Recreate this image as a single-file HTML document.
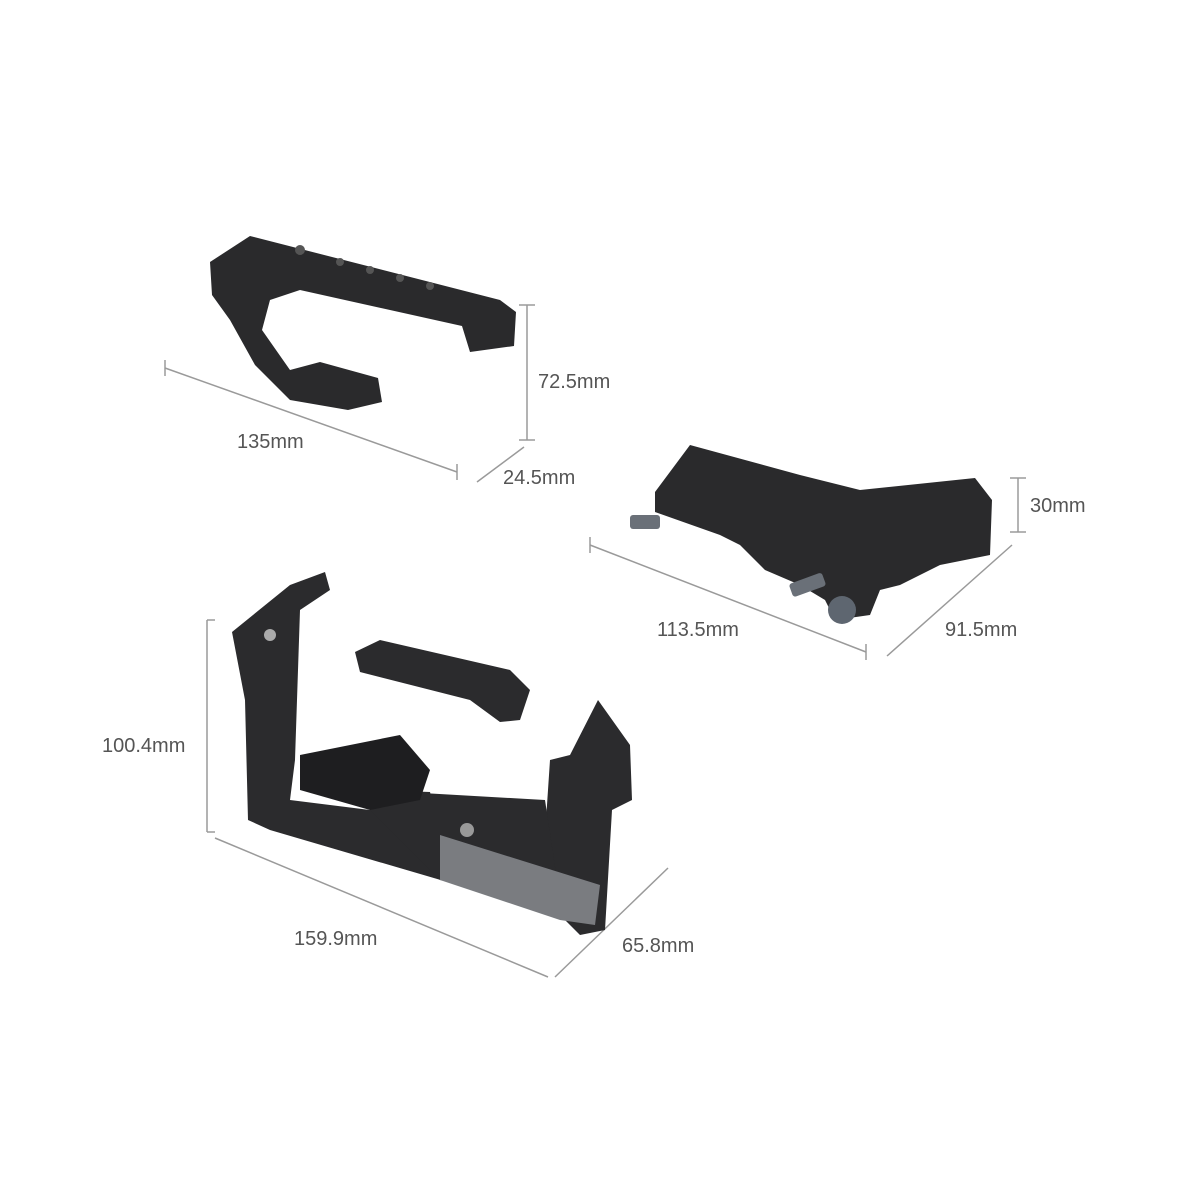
<!DOCTYPE html>
<html><head><meta charset="utf-8"><style>
html,body{margin:0;padding:0;background:#fff;}
svg{display:block}
text{font-family:"Liberation Sans",sans-serif;font-size:20px;fill:#555;}
</style></head><body>
<svg width="1200" height="1200" viewBox="0 0 1200 1200" xmlns="http://www.w3.org/2000/svg">
<g stroke="#9a9a9a" stroke-width="1.5" fill="none">
  <line x1="165" y1="368" x2="457" y2="472"/>
  <line x1="165" y1="360" x2="165" y2="376"/><line x1="457" y1="464" x2="457" y2="480"/>
  <line x1="527" y1="305" x2="527" y2="440"/>
  <line x1="519" y1="305" x2="535" y2="305"/><line x1="519" y1="440" x2="535" y2="440"/>
  <line x1="477" y1="482" x2="524" y2="447"/>
  <line x1="1018" y1="478" x2="1018" y2="532"/>
  <line x1="1010" y1="478" x2="1026" y2="478"/><line x1="1010" y1="532" x2="1026" y2="532"/>
  <line x1="590" y1="545" x2="866" y2="652"/>
  <line x1="590" y1="537" x2="590" y2="553"/><line x1="866" y1="644" x2="866" y2="660"/>
  <line x1="887" y1="656" x2="1012" y2="545"/>
  <line x1="207" y1="620" x2="207" y2="832"/>
  <line x1="207" y1="620" x2="215" y2="620"/><line x1="207" y1="832" x2="215" y2="832"/>
  <line x1="215" y1="838" x2="548" y2="977"/>
  <line x1="555" y1="977" x2="668" y2="868"/>
</g>
<text x="237" y="448">135mm</text>
<text x="538" y="388">72.5mm</text>
<text x="503" y="484">24.5mm</text>
<text x="1030" y="512">30mm</text>
<text x="657" y="636">113.5mm</text>
<text x="945" y="636">91.5mm</text>
<text x="102" y="752">100.4mm</text>
<text x="294" y="945">159.9mm</text>
<text x="622" y="952">65.8mm</text>

<g fill="#2a2a2c">
  <path d="M210,262 L250,236 L500,300 L516,312 L514,346 L470,352 L462,326 L300,290 L270,300 L262,330 L290,370 L320,362 L378,378 L382,402 L348,410 L290,400 L255,365 L230,320 L212,295 Z"/>
</g>
<g fill="#555"><circle cx="300" cy="250" r="5"/><circle cx="340" cy="262" r="4"/><circle cx="370" cy="270" r="4"/><circle cx="400" cy="278" r="4"/><circle cx="430" cy="286" r="4"/></g>

<g fill="#2a2a2c">
  <path d="M655,492 L690,445 L800,475 L860,490 L975,478 L992,500 L990,555 L940,565 L900,585 L880,590 L870,615 L835,620 L825,600 L800,585 L765,570 L740,545 L720,535 L655,512 Z"/>
  <rect x="630" y="515" width="30" height="14" fill="#6a7078" rx="3"/>
  <rect x="790" y="578" width="35" height="14" fill="#6a7078" rx="3" transform="rotate(-20 807 585)"/>
  <circle cx="842" cy="610" r="14" fill="#5e6670"/>
</g>

<g fill="#2b2b2d">
  <path d="M232,632 L290,585 L325,572 L330,590 L300,610 L295,760 L290,800 L370,810 L375,790 L430,792 L440,830 L530,880 L545,835 L550,760 L570,755 L598,700 L630,745 L632,800 L612,810 L605,930 L580,935 L560,915 L270,830 L248,820 L245,700 Z"/>
  <path d="M355,652 L380,640 L510,670 L530,690 L520,720 L500,722 L470,700 L360,672 Z"/>
  <path d="M370,790 L545,800 L560,900 L440,880 L370,810 Z"/>
  <path d="M300,755 L400,735 L430,770 L420,800 L370,810 L300,790 Z" fill="#1e1e20"/>
</g>
<path d="M440,835 L600,885 L595,925 L560,920 L440,880 Z" fill="#7a7c80"/>
<circle cx="467" cy="830" r="7" fill="#999"/>
<circle cx="270" cy="635" r="6" fill="#aaa"/>
</svg>
</body></html>
